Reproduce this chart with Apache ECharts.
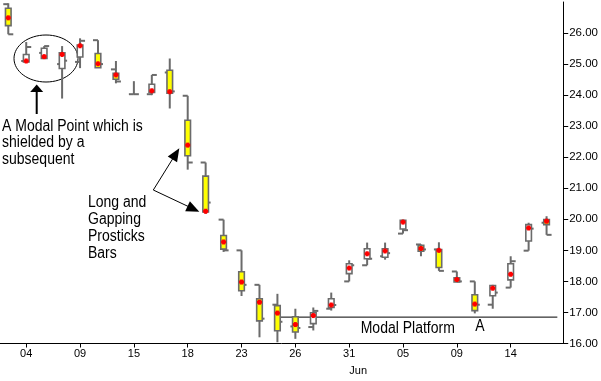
<!DOCTYPE html>
<html><head><meta charset="utf-8">
<script src="https://cdn.jsdelivr.net/npm/echarts@6/dist/echarts.min.js"></script>
<style>html,body{margin:0;padding:0;background:#fff}#c{width:601px;height:381px}</style>
</head><body><div id="c"></div>
<script>
// ---- data (one entry per bar) ----
const opens      = [26.93,25.10,25.36,25.00,25.07,25.77,24.83,24.03,24.03,24.73,23.98,21.83,19.99,19.00,17.89,17.25,16.55,16.53,17.12,18.00,18.52,18.81,19.54,19.19,19.03,18.32,18.00,17.25,17.80,18.99,19.89];
const highs      = [26.96,25.71,25.58,25.58,25.83,25.77,25.10,24.45,24.65,25.18,23.98,21.83,19.99,19.00,17.89,17.60,17.12,17.16,17.64,18.68,19.25,19.25,19.99,19.19,19.26,18.32,18.00,17.89,18.81,19.89,20.10];
const lows       = [25.96,25.07,25.18,23.89,24.87,24.88,24.38,24.03,24.00,23.57,21.60,20.18,18.95,17.53,16.20,16.04,16.15,16.42,17.06,18.00,18.52,18.70,19.54,18.81,18.34,17.98,16.97,17.12,17.80,18.99,19.50];
const closes     = [25.96,25.55,25.58,25.11,25.75,25.00,24.44,24.03,24.65,24.12,21.83,20.54,19.00,17.89,16.80,16.70,16.50,17.05,17.24,18.52,18.73,18.91,19.65,19.03,18.34,18.00,17.25,17.64,18.65,19.70,19.50];
const boxTops    = [26.80,25.31,25.51,25.36,25.61,25.34,24.70,null,24.35,24.80,23.19,21.39,19.48,18.31,17.44,17.22,16.86,16.99,17.44,18.57,19.05,19.05,19.97,19.16,19.03,18.12,17.57,17.87,18.57,19.83,19.99];
const boxBottoms = [26.24,25.07,25.18,24.86,25.23,24.88,24.51,null,24.09,24.06,22.05,20.24,19.04,17.70,16.73,16.41,16.37,16.64,17.16,18.25,18.73,18.78,19.69,18.97,18.45,17.98,17.06,17.54,18.05,19.30,19.83];
const modals     = [26.49,25.10,25.24,25.31,25.59,25.01,24.65,null,24.14,24.11,22.39,20.26,19.27,17.98,17.33,16.98,16.61,16.90,17.24,18.43,18.89,18.98,19.91,19.06,19.00,18.06,17.27,17.78,18.23,19.72,19.94];
const tickBars   = [1,4,7,10,13,16,19,22,25,28];
const tickLabels = ['04','09','15','18','23','26','31','05','09','14'];
const monthLabel = 'Jun';
const monthAt    = 19.5;
const yTicks     = [16,17,18,19,20,21,22,23,24,25,26];
const platformLevel = 16.85, platformFrom = 14.82, platformTo = 30.6;

const chart = echarts.init(document.getElementById('c'), null, {renderer:'canvas'});
const GRAY = '#6b6b6b';
const FONT = '"Liberation Sans", Arial, sans-serif';

const seriesData = opens.map((o,i)=>[i,o,highs[i],lows[i],closes[i]]);

function renderItem(params, api){
  const k = params.dataIndex;
  const i = api.value(0);
  const ph = api.coord([i, api.value(2)]);
  const pl = api.coord([i, api.value(3)]);
  const po = api.coord([i, api.value(1)]);
  const pc = api.coord([i, api.value(4)]);
  const x = ph[0];
  const ch = [
    {type:'line', shape:{x1:x,y1:ph[1],x2:x,y2:pl[1]}, style:{stroke:GRAY,lineWidth:2}},
    {type:'line', shape:{x1:x-5,y1:po[1],x2:x,y2:po[1]}, style:{stroke:GRAY,lineWidth:2}},
    {type:'line', shape:{x1:x,y1:pc[1],x2:x+5,y2:pc[1]}, style:{stroke:GRAY,lineWidth:2}}
  ];
  if (boxTops[k] != null){
    const yt = api.coord([i, boxTops[k]])[1];
    const yb = api.coord([i, boxBottoms[k]])[1];
    const down = api.value(4) < api.value(1);
    ch.push({type:'rect', shape:{x:x-2.8,y:yt,width:5.6,height:yb-yt},
      style:{fill: down ? '#ffff00' : '#ffffff', stroke:GRAY, lineWidth:1.6}});
    const ym = api.coord([i, modals[k]])[1];
    ch.push({type:'rect', shape:{x:x-2.5,y:ym-1.5,width:5,height:3}, style:{fill:'#ff0000'}});
    ch.push({type:'rect', shape:{x:x-1.5,y:ym-2.5,width:3,height:5}, style:{fill:'#ff0000'}});
  }
  return {type:'group', children:ch};
}

function arrowHead(x1,y1,x2,y2,len,hw){
  const dx=x2-x1, dy=y2-y1, L=Math.hypot(dx,dy), ux=dx/L, uy=dy/L;
  const bx=x2-ux*len, by=y2-uy*len;
  return {type:'polygon', shape:{points:[[x2,y2],[bx-uy*hw,by+ux*hw],[bx+uy*hw,by-ux*hw]]}, style:{fill:'#000'}};
}
function note(x, y, text, extra){
  return Object.assign({type:'text', x:x, y:y, scaleX:0.875,
    style:Object.assign({text:text, fontSize:16, fontFamily:FONT, fill:'#000'}, extra||{})});
}

const graphics = [
  {type:'ellipse', shape:{cx:46,cy:58.5,rx:32,ry:23.5}, style:{fill:'none',stroke:'#000',lineWidth:1}},
  {type:'line', shape:{x1:36.7,y1:90,x2:36.7,y2:114}, style:{stroke:'#000',lineWidth:2}},
  arrowHead(36.7,114,36.7,84.5,7.5,6.5),
  note(2, 118, 'A Modal Point which is\nshielded by a\nsubsequent', {lineHeight:16.5, verticalAlign:'top'}),
  note(88, 194, 'Long and\nGapping\nProsticks\nBars', {lineHeight:17, verticalAlign:'top'}),
  {type:'line', shape:{x1:153.3,y1:190,x2:176,y2:153.5}, style:{stroke:'#000',lineWidth:1}},
  arrowHead(153.3,190,179.3,148.3,13,5.5),
  {type:'line', shape:{x1:153.3,y1:190,x2:194,y2:209.2}, style:{stroke:'#000',lineWidth:1}},
  arrowHead(153.3,190,199.3,211.7,13,5.5),
  note(360.7, 329, 'Modal Platform', {verticalAlign:'middle'}),
  note(480, 327, 'A', {align:'center', verticalAlign:'middle'})
];

chart.setOption({
  animation:false,
  backgroundColor:'#fff',
  grid:{left:0,right:36,top:2,bottom:37.5,containLabel:false},
  xAxis:{type:'value', min:-0.4611, max:30.928,
    axisLine:{show:true,onZero:false,lineStyle:{color:'#000',width:1}},
    axisTick:{show:true,length:4,customValues:tickBars,lineStyle:{color:'#000'}},
    axisLabel:{customValues:tickBars, margin:5, fontSize:11, fontFamily:FONT, color:'#000',
      formatter:(v)=>{const j=tickBars.indexOf(Math.round(v)); return j>=0?tickLabels[j]:'';}},
    splitLine:{show:false}},
  yAxis:{type:'value', position:'right', min:16, max:27,
    axisLine:{show:true,onZero:false,lineStyle:{color:'#000',width:1}},
    axisTick:{show:true,length:5,customValues:yTicks,lineStyle:{color:'#000'}},
    axisLabel:{customValues:yTicks, margin:6, fontSize:11.5, fontFamily:FONT, color:'#000',
      formatter:(v)=>v.toFixed(2)},
    splitLine:{show:false}},
  series:[
    {type:'custom', renderItem, data:seriesData, encode:{x:0,y:[1,2,3,4]}, z:3},
    {type:'line', data:[[platformFrom,platformLevel],[platformTo,platformLevel]], symbol:'none',
      lineStyle:{color:'#000',width:1}, z:2, silent:true}
  ],
  graphic:graphics
});

const jx = chart.convertToPixel({xAxisIndex:0}, monthAt);
chart.setOption({graphic: graphics.concat([
  {type:'text', x:jx, y:371, style:{text:monthLabel, fontSize:11, fontFamily:FONT, fill:'#000', align:'center', verticalAlign:'middle'}}
])});
</script></body></html>
